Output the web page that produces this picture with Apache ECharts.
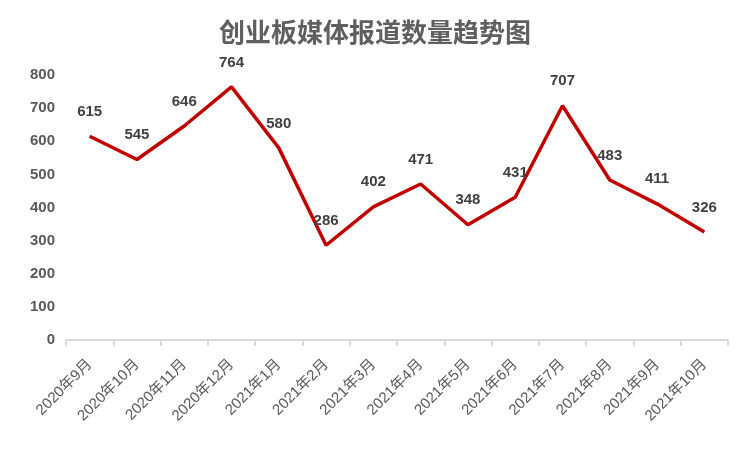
<!DOCTYPE html>
<html>
<head>
<meta charset="utf-8">
<script src="https://cdn.jsdelivr.net/npm/echarts@6/dist/echarts.min.js"></script>
<style>
	html, body { margin: 0; padding: 0; background: #fff; }
	#chart { width: 750px; height: 452px; }
</style>
</head>
<body>
<div id="chart"></div>
<script>
var months = [ '2020年9月', '2020年10月', '2020年11月', '2020年12月', '2021年1月', '2021年2月',
		'2021年3月', '2021年4月', '2021年5月', '2021年6月', '2021年7月', '2021年8月', '2021年9月', '2021年10月' ];
var reportCounts = [ 615, 545, 646, 764, 580, 286, 402, 471, 348, 431, 707, 483, 411, 326 ];

var myChart = echarts.init(document.getElementById('chart'));
var option = {
	animation : false,
	title : {
		text : '创业板媒体报道数量趋势图',
		left : 'center',
		top : 14,
		textStyle : {
			fontFamily : 'Noto Sans CJK SC',
			fontSize : 26,
			fontWeight : 'bold',
			color : '#5f5f5f'
		}
	},
	grid : {
		left : 66,
		right : 22,
		top : 75,
		bottom : 112
	},
	xAxis : {
		type : 'category',
		data : months,
		boundaryGap : true,
		axisLine : { lineStyle : { color : '#d9d9d9', width : 2 } },
		axisTick : { show : true, alignWithLabel : false, length : 6, lineStyle : { color : '#d9d9d9', width : 2 } },
		axisLabel : {
			rotate : 45,
			interval : 0,
			color : '#595959',
			fontSize : 15,
			fontFamily : 'Liberation Sans, Noto Sans CJK SC',
			margin : 22
		}
	},
	yAxis : {
		type : 'value',
		min : 0,
		max : 800,
		interval : 100,
		splitLine : { show : false },
		axisLine : { show : false },
		axisTick : { show : false },
		axisLabel : {
			color : '#595959',
			fontSize : 15,
			fontWeight : 'bold',
			fontFamily : 'Liberation Sans',
			margin : 11
		}
	},
	series : [ {
		type : 'line',
		data : reportCounts,
		symbol : 'circle',
		symbolSize : 0,
		showAllSymbol : true,
		lineStyle : { color : '#c00000', width : 3.5 },
		itemStyle : { color : '#c00000' },
		label : {
			show : true,
			position : 'top',
			distance : 17,
			color : '#404040',
			fontSize : 15,
			fontWeight : 'bold',
			fontFamily : 'Liberation Sans'
		}
	} ]
};
myChart.setOption(option);
</script>
</body>
</html>
